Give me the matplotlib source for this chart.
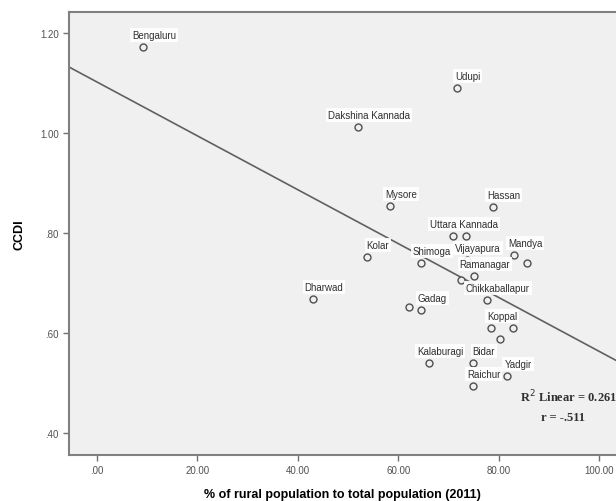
import numpy as np
import matplotlib
matplotlib.use('Agg')
import matplotlib.pyplot as plt

# districts ('' = point drawn without a label)
districts = ['Bengaluru', 'Udupi', 'Dakshina Kannada', 'Mysore', 'Hassan',
             'Uttara Kannada', '', 'Kolar', 'Shimoga', 'Vijayapura', 'Mandya', '',
             'Ramanagar', '', '', 'Chikkaballapur', 'Dharwad', '', 'Gadag',
             'Koppal', '', '', 'Kalaburagi', 'Bidar', 'Yadgir', 'Raichur']
rural_pct = [9.15, 71.6, 51.9, 58.3, 78.8,
             70.8, 73.4, 53.7, 64.5, 73.6, 83.0, 85.6,
             75.0, 72.4, 73.8, 77.6, 43.0, 62.1, 64.5,
             78.4, 82.8, 80.2, 66.1, 74.8, 81.6, 74.8]
ccdi = [1.172, 1.090, 1.012, 0.854, 0.852,
        0.794, 0.794, 0.752, 0.740, 0.746, 0.756, 0.740,
        0.714, 0.706, 0.690, 0.666, 0.668, 0.652, 0.646,
        0.610, 0.610, 0.588, 0.540, 0.540, 0.514, 0.494]

# fit line as drawn in the reference
fit_intercept = 1.102
fit_slope = -0.00539

xticks = [0, 20, 40, 60, 80, 100]
xtick_labels = ['.00', '20.00', '40.00', '60.00', '80.00', '100.00']
yticks = [0.40, 0.60, 0.80, 1.00, 1.20]
ytick_labels = ['.40', '.60', '.80', '1.00', '1.20']

plt.rcParams['font.family'] = ['Liberation Sans', 'DejaVu Sans']

W, H = 616, 502
fig = plt.figure(figsize=(W/100, H/100), dpi=100)
ax = fig.add_axes([69/W, 1-456/H, 1-69/W, (456-13)/H])
ax.set_facecolor('#f0f0f0')
ax.set_xlim(-5.57, 103.3)
ax.set_ylim(0.356, 1.242)

xs = np.array(ax.get_xlim())
ax.plot(xs, fit_intercept + fit_slope*xs, color='#606060', lw=1.2, zorder=2)

ax.plot(rural_pct, ccdi, 'o', ms=5, mfc='#f0f0f0', mec='#505050', mew=1.0,
        zorder=3, clip_on=False)

for name, x, y in zip(districts, rural_pct, ccdi):
    if name:
        ax.annotate(name, (x, y), xytext=(11, 12), textcoords='offset pixels',
                    ha='center', va='center', fontsize=7, color='#303030',
                    bbox=dict(boxstyle='square,pad=0.2', fc='white', ec='none', alpha=0.9),
                    zorder=4)

fig.text(520/W, 1-397/H, r'R$^2$ Linear = 0.261', fontsize=9,
         fontweight='bold', family='Liberation Serif', color='#303030',
         ha='left', va='center')
fig.text(563/W, 1-418/H, 'r = -.511', fontsize=9,
         fontweight='bold', family='Liberation Serif', color='#303030',
         ha='center', va='center')

ax.set_xticks(xticks)
ax.set_xticklabels(xtick_labels)
ax.set_yticks(yticks)
ax.set_yticklabels(ytick_labels)
ax.tick_params(direction='out', length=4, width=1, color='#707070',
               labelsize=7, labelcolor='#505050')

for side in ['left', 'bottom', 'top']:
    ax.spines[side].set_color('#808080')
    ax.spines[side].set_linewidth(1.5)
ax.spines['right'].set_visible(False)

ax.set_xlabel('% of rural population to total population (2011)',
              fontsize=9, fontweight='bold', labelpad=9)
ax.set_ylabel('CCDI', fontsize=9, fontweight='bold', labelpad=10)

fig.savefig('out.png', dpi=100)
